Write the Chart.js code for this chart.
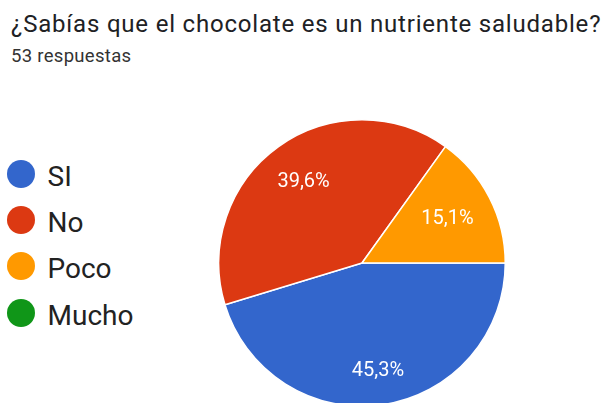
<!DOCTYPE html>
<html>
<head>
<meta charset="utf-8">
<script src="https://cdn.jsdelivr.net/npm/chart.js@4"></script>
<style>
  html,body{margin:0;padding:0;width:603px;height:403px;overflow:hidden;background:#fff;font-family:Roboto,Arial,sans-serif}
  #title{position:absolute;left:11px;top:11.5px;font-size:24px;line-height:24px;letter-spacing:0.8px;color:#202124;white-space:nowrap}
  #sub{position:absolute;left:11px;top:47px;font-size:18.5px;line-height:18.5px;letter-spacing:0.3px;color:#333;white-space:nowrap}
  #legend{position:absolute;left:0;top:151px}
  .lg{position:relative;height:46.2px}
  .dot{position:absolute;left:6.5px;top:9px;width:28px;height:28px;border-radius:50%}
  .lg span{position:absolute;left:47.5px;top:3px;font-size:28px;line-height:46.2px;color:#222;white-space:nowrap}
  #wrap{position:absolute;left:218px;top:119px;width:288px;height:288px}
</style>
</head>
<body>
<div id="title">¿Sabías que el chocolate es un nutriente saludable?</div>
<div id="sub">53 respuestas</div>
<div id="legend"></div>
<div id="wrap"><canvas id="ch"></canvas></div>
<script>
// data
const labels=['SI','No','Poco','Mucho'];
const values=[45.3,39.6,15.1,0];
const colors=['#3366cc','#dc3912','#ff9900','#109618'];

// legend
document.getElementById('legend').innerHTML=labels.map((l,i)=>
  `<div class="lg"><div class="dot" style="background:${colors[i]}"></div><span>${l}</span></div>`).join('');

// percentage labels inside slices
const labelPos=[0.76,0.70,0.67,0.7];
const pctLabels={
  id:'pctLabels',
  afterDatasetsDraw(chart){
    const {ctx}=chart;
    const meta=chart.getDatasetMeta(0);
    ctx.save();
    ctx.fillStyle='#fff';
    ctx.font='20px Roboto, Arial, sans-serif';
    ctx.textAlign='center';ctx.textBaseline='middle';
    meta.data.forEach((arc,i)=>{
      const v=chart.data.datasets[0].data[i];
      if(!v) return;
      const p=arc.getProps(['x','y','startAngle','endAngle','outerRadius']);
      const a=(p.startAngle+p.endAngle)/2;
      const r=p.outerRadius*labelPos[i];
      ctx.fillText(v.toFixed(1).replace('.',',')+'%',p.x+Math.cos(a)*r,p.y+Math.sin(a)*r);
    });
    ctx.restore();
  }
};

new Chart(document.getElementById('ch'),{
  type:'pie',
  data:{labels,datasets:[{data:values,backgroundColor:colors,borderColor:'#fff',borderWidth:1.5}]},
  options:{
    responsive:true,maintainAspectRatio:false,animation:false,
    rotation:90,
    layout:{padding:0},
    plugins:{legend:{display:false},tooltip:{enabled:false}}
  },
  plugins:[pctLabels]
});
</script>
</body>
</html>
